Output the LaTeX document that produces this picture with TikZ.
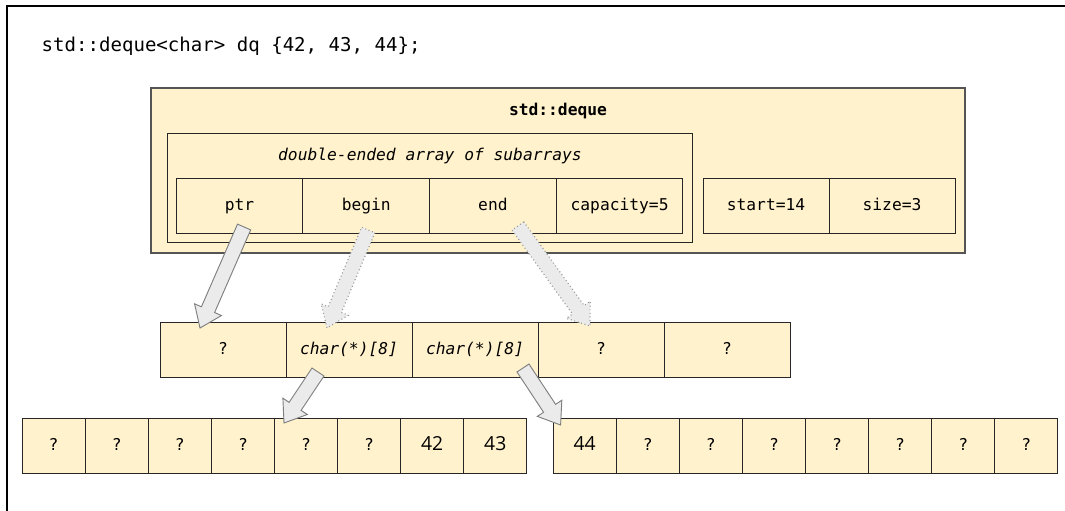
\documentclass[tikz,border=0pt]{standalone}
\usepackage{fontspec}
\setmonofont{DejaVu Sans Mono}
\setsansfont{Open Sans}
\usepackage{tikz}
\usetikzlibrary{calc}
\usetikzlibrary{positioning}

\definecolor{cream}{HTML}{FFF2CC}
\definecolor{boxline}{HTML}{555555}
\definecolor{arrowfill}{HTML}{EBEBEB}
\definecolor{arrowline}{HTML}{7F7F7F}

\tikzset{
  code/.style={font=\fontsize{12.2}{14}\selectfont\ttfamily},
  frame/.style={draw=boxline,fill=cream,line width=0.8pt,inner sep=0pt,outer sep=0pt},
  cell/.style={draw=black!85,fill=cream,line width=0.7pt,inner sep=0pt,outer sep=0pt,
    minimum height=41.25pt,text height=1.9ex,text depth=0.2ex,code},
  bigcell/.style={cell,minimum width=95pt},
  smallcell/.style={cell,minimum width=47.3pt},
  fatarrow/.style={fill=arrowfill,draw=arrowline,line width=0.7pt,line join=miter},
  dottedarrow/.style={draw=arrowline!80,dotted,line width=0.9pt},
}

% fat block arrow from #2 (tail) to #3 (tip)
\newcommand{\fatarrow}[3][]{%
  \draw[fatarrow,#1] let \p1=($(#3)!15pt!(#2)$) in
    ($(#2)!5.4pt!90:(#3)$) -- ($(\p1)!5.4pt!-90:(#2)$) -- ($(\p1)!11pt!-90:(#2)$) -- (#3)
    -- ($(\p1)!11pt!90:(#2)$) -- ($(\p1)!5.4pt!90:(#2)$) -- ($(#2)!5.4pt!-90:(#3)$) -- cycle;}

\begin{document}
\begin{tikzpicture}[x=0.75pt,y=-0.75pt]
  \useasboundingbox (0,0) rectangle (1065,511);
  \draw[line width=2.2pt] (7,511) -- (7,6) -- (1065,6);

  \node[anchor=west,font=\fontsize{14.3}{16}\selectfont\ttfamily] (decl) at (37,46)
    {std::deque<char> dq \{42, 43, 44\};};

  % the deque object
  \node[frame,minimum width=610.5pt,minimum height=123.75pt] (deque) at (558,170.5) {};
  \node[code,font=\fontsize{12.2}{14}\selectfont\ttfamily\bfseries] (dequename) at (558,111) {std::deque};
  \node[draw=black!85,fill=cream,line width=0.7pt,minimum width=393.75pt,minimum height=81.75pt,
    inner sep=0pt] (map) at (429.5,187.5) {};
  \node[code,font=\fontsize{12.2}{14}\selectfont\ttfamily\itshape] (mapname) at (430,156)
    {double-ended array of subarrays};
  \node[bigcell] (ptr) at (239.6,205.5) {ptr};
  \node[bigcell,right=0pt of ptr] (begin) {begin};
  \node[bigcell,right=0pt of begin] (end) {end};
  \node[bigcell,right=0pt of end] (cap) {capacity=5};
  \node[bigcell,minimum width=94.5pt] (start) at (766,205.5) {start=14};
  \node[bigcell,minimum width=94.5pt,right=0pt of start] (size) {size=3};

  % the map of subarrays
  \foreach \t [count=\i from 0] in {?,{\itshape char(*)[8]},{\itshape char(*)[8]},?,?}
    \node[bigcell,minimum width=94.5pt] (m\i) at ({223+126*\i},349.5) {\t};

  % the subarrays
  \foreach \t [count=\i from 0] in {?,?,?,?,?,?,{\sffamily\fontsize{14.5}{16}\selectfont 42},{\sffamily\fontsize{14.5}{16}\selectfont 43}}
    \node[smallcell] (a\i) at ({53.6+63.1*\i},445.5) {\t};
  \foreach \t [count=\i from 0] in {{\sffamily\fontsize{14.5}{16}\selectfont 44},?,?,?,?,?,?,?}
    \node[smallcell] (b\i) at ({584.6+63.1*\i},445.5) {\t};

  % arrows
  \coordinate (ptrtail) at ($(ptr.south)+(4.5,-6)$);
  \coordinate (ptrtip) at ($(m0.north)+(-23,6)$);
  \coordinate (begintail) at ($(begin.south)+(2,-3)$);
  \coordinate (begintip) at ($(m1.north)+(-22,6)$);
  \coordinate (endtail) at ($(end.south)+(25,-7)$);
  \coordinate (endtip) at ($(m3.north)+(-11,4)$);
  \coordinate (firsttail) at ($(m1.south)+(-31,-5)$);
  \coordinate (firsttip) at ($(a4.north)+(-22,5)$);
  \coordinate (lasttail) at ($(m2.south)+(48,-9)$);
  \coordinate (lasttip) at ($(b0.north)+(-24,7)$);

  \fatarrow{ptrtail}{ptrtip}
  \fatarrow[dottedarrow]{begintail}{begintip}
  \fatarrow[dottedarrow]{endtail}{endtip}
  \fatarrow{firsttail}{firsttip}
  \fatarrow{lasttail}{lasttip}
\end{tikzpicture}
\end{document}
